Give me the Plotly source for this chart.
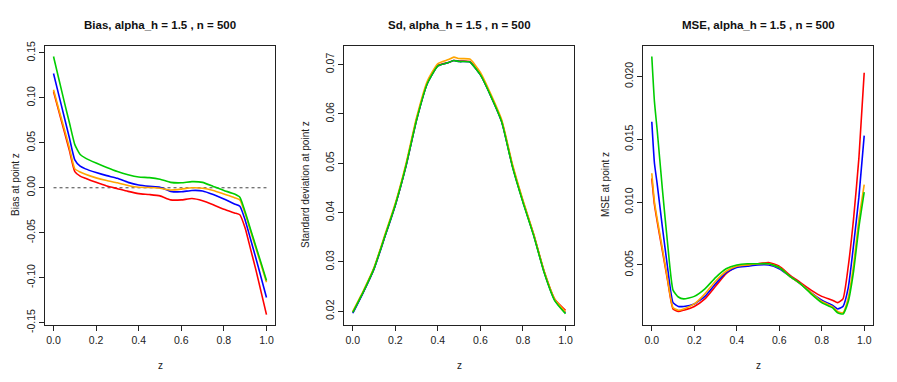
import plotly.graph_objects as go

# ---------------- data ----------------
z_bias = [0, 0.025, 0.05, 0.075, 0.1, 0.125, 0.15, 0.2, 0.25, 0.3, 0.35, 0.4, 0.45, 0.5,
          0.55, 0.6, 0.65, 0.7, 0.75, 0.8, 0.85, 0.875, 0.9, 0.925, 0.95, 0.975, 1.0]
bias_red = [0.107, 0.085, 0.063, 0.041, 0.018, 0.013, 0.0105, 0.006, 0.002, -0.001, -0.004, -0.0065,
            -0.0075, -0.009, -0.0135, -0.0135, -0.012, -0.0145, -0.019, -0.024, -0.028, -0.030,
            -0.045, -0.068, -0.091, -0.116, -0.141]
bias_blue = [0.127, 0.103, 0.079, 0.055, 0.031, 0.024, 0.021, 0.017, 0.0135, 0.0105, 0.006, 0.003,
             0.0015, 0.0005, -0.004, -0.0045, -0.003, -0.0035, -0.0075, -0.0125, -0.018, -0.0205,
             -0.036, -0.057, -0.078, -0.100, -0.122]
bias_orange = [0.109, 0.087, 0.066, 0.044, 0.021, 0.0175, 0.015, 0.011, 0.008, 0.0055, 0.0025, 0.0005,
               0.0003, -0.0005, -0.0025, -0.0015, 0.0, -0.0005, -0.003, -0.007, -0.011, -0.0135,
               -0.029, -0.048, -0.067, -0.086, -0.105]
bias_green = [0.146, 0.121, 0.096, 0.072, 0.048, 0.037, 0.033, 0.0275, 0.0225, 0.018, 0.0145, 0.012,
              0.0113, 0.0095, 0.006, 0.0055, 0.0068, 0.006, 0.0015, -0.003, -0.007, -0.0105,
              -0.027, -0.046, -0.065, -0.084, -0.103]
zero_x = [0, 1]
zero_y = [0, 0]

z_sd = [0, 0.05, 0.1, 0.15, 0.2, 0.25, 0.3, 0.35, 0.4, 0.45, 0.475, 0.5, 0.55, 0.6, 0.65, 0.7,
        0.75, 0.8, 0.85, 0.9, 0.95, 1.0]
sd_red = [0.0198, 0.0240, 0.0287, 0.0351, 0.0416, 0.0495, 0.0589, 0.0662, 0.0698, 0.0704, 0.0708, 0.0707,
          0.0706, 0.0680, 0.0636, 0.0585, 0.0496, 0.0423, 0.0356, 0.0280, 0.0224, 0.0202]
sd_blue = [0.0196, 0.0239, 0.0286, 0.0350, 0.0415, 0.0494, 0.0588, 0.0661, 0.0697, 0.0704, 0.0708, 0.0706,
           0.0705, 0.0679, 0.0635, 0.0584, 0.0495, 0.0422, 0.0355, 0.0279, 0.0222, 0.0197]
sd_orange = [0.0200, 0.0242, 0.0289, 0.0354, 0.0419, 0.0499, 0.0593, 0.0666, 0.0702, 0.0710, 0.0715, 0.0712,
             0.0711, 0.0684, 0.0639, 0.0588, 0.0499, 0.0425, 0.0357, 0.0281, 0.0224, 0.0199]
sd_green = [0.0198, 0.0240, 0.0287, 0.0351, 0.0416, 0.0495, 0.0588, 0.0661, 0.0697, 0.0704, 0.0708, 0.0706,
            0.0705, 0.0679, 0.0635, 0.0584, 0.0494, 0.0421, 0.0354, 0.0278, 0.0221, 0.0195]

z_mse = [0, 0.0125, 0.025, 0.05, 0.075, 0.1, 0.125, 0.15, 0.2, 0.25, 0.3, 0.35, 0.4, 0.45, 0.5,
         0.55, 0.6, 0.65, 0.7, 0.75, 0.8, 0.85, 0.875, 0.9, 0.925, 0.95, 0.975, 1.0]
mse_red = [0.0119, 0.0098, 0.0085, 0.0061, 0.0037, 0.0015, 0.0013, 0.0014, 0.0017, 0.0023, 0.0033, 0.0043,
           0.0049, 0.0050, 0.0051, 0.0052, 0.0049, 0.0042, 0.0036, 0.0030, 0.0025, 0.0022, 0.0020,
           0.0023, 0.0049, 0.0087, 0.0135, 0.0203]
mse_blue = [0.0164, 0.0131, 0.0115, 0.0080, 0.0047, 0.0020, 0.0017, 0.0017, 0.0019, 0.0025, 0.0035, 0.0044,
            0.0048, 0.0049, 0.0050, 0.0050, 0.0047, 0.0041, 0.0035, 0.0028, 0.0022, 0.0018, 0.0015,
            0.0017, 0.0032, 0.0066, 0.0104, 0.0153]
mse_orange = [0.0123, 0.0100, 0.0087, 0.0063, 0.0038, 0.0016, 0.0014, 0.0015, 0.0019, 0.0027, 0.0037, 0.0045,
              0.0049, 0.0050, 0.0051, 0.0051, 0.0048, 0.0041, 0.0035, 0.0028, 0.0021, 0.0017, 0.0013,
              0.0012, 0.0024, 0.0050, 0.0086, 0.0114]
mse_green = [0.0216, 0.0180, 0.0158, 0.0110, 0.0066, 0.0030, 0.00245, 0.0023, 0.0025, 0.0031, 0.0040, 0.0047,
             0.0050, 0.0051, 0.0051, 0.0051, 0.0048, 0.0041, 0.0035, 0.0027, 0.0020, 0.0016, 0.0012,
             0.0011, 0.0021, 0.0045, 0.0080, 0.0108]

x_ticks = [0, 0.2, 0.4, 0.6, 0.8, 1.0]
x_ticktext = ["0.0", "0.2", "0.4", "0.6", "0.8", "1.0"]
bias_ticks = [-0.15, -0.10, -0.05, 0.0, 0.05, 0.10, 0.15]
bias_ticktext = ["-0.15", "-0.10", "-0.05", "0.00", "0.05", "0.10", "0.15"]
sd_ticks = [0.02, 0.03, 0.04, 0.05, 0.06, 0.07]
sd_ticktext = ["0.02", "0.03", "0.04", "0.05", "0.06", "0.07"]
mse_ticks = [0.005, 0.010, 0.015, 0.020]
mse_ticktext = ["0.005", "0.010", "0.015", "0.020"]

titles = ["Bias, alpha_h = 1.5 , n = 500", "Sd, alpha_h = 1.5 , n = 500", "MSE, alpha_h = 1.5 , n = 500"]
ytitles = ["Bias at point z", "Standard deviation at point z", "MSE at point z"]

colors = {"red": "#FF0000", "blue": "#0000FF", "orange": "#FFA500", "green": "#00CD00"}

# ---------------- figure ----------------
W, H = 897, 382
OFF = 8  # page body margin shifts the figure by 8px right and down
FONT = "Liberation Sans, Arial, Helvetica, sans-serif"
fig = go.Figure()

def px_x(p):
    return (p - OFF) / W

def px_y(p):
    return 1 - (p - OFF) / H

def add_lines(xs, series, xa, ya):
    for name, ys in series:
        fig.add_trace(go.Scatter(x=xs, y=ys, mode="lines", xaxis=xa, yaxis=ya,
                                 line=dict(color=colors[name], width=1.6, shape="spline", smoothing=0.5),
                                 showlegend=False, hoverinfo="skip"))

fig.add_trace(go.Scatter(x=zero_x, y=zero_y, mode="lines", xaxis="x", yaxis="y",
                         line=dict(color="#444444", width=1, dash="dot"), showlegend=False))
add_lines(z_bias, [("red", bias_red), ("blue", bias_blue), ("orange", bias_orange), ("green", bias_green)], "x", "y")
add_lines(z_sd, [("red", sd_red), ("blue", sd_blue), ("orange", sd_orange), ("green", sd_green)], "x2", "y2")
add_lines(z_mse, [("red", mse_red), ("blue", mse_blue), ("orange", mse_orange), ("green", mse_green)], "x3", "y3")

# panel boxes in (screen) pixels
boxes = [(45, 275), (344.3, 574), (643.3, 872.7)]
ytitle_px = [15, 305, 605]
top_px, bot_px = 45.5, 325
ydom = [px_y(bot_px), px_y(top_px)]

common_axis = dict(showline=True, mirror=True, linecolor="#222222", linewidth=1,
                   ticks="outside", ticklen=5, tickwidth=1, tickcolor="#222222",
                   showgrid=False, zeroline=False, automargin=False,
                   tickfont=dict(family=FONT, size=10.5, color="#222222"))

yranges = [[-0.1526, 0.1582], [0.01722, 0.07385], [0.000223, 0.02247]]
ytick_sets = [(bias_ticks, bias_ticktext), (sd_ticks, sd_ticktext), (mse_ticks, mse_ticktext)]

layout = dict(width=W, height=H, margin=dict(l=0, r=0, t=0, b=0, autoexpand=False),
              paper_bgcolor="white", plot_bgcolor="white", showlegend=False,
              font=dict(family=FONT, color="#222222"))
for i in range(3):
    sfx = "" if i == 0 else str(i + 1)
    xa = dict(common_axis, domain=[px_x(boxes[i][0]), px_x(boxes[i][1])], range=[-0.04, 1.04],
              tickvals=x_ticks, ticktext=x_ticktext, anchor="y" + sfx)
    ya = dict(common_axis, domain=ydom, range=yranges[i], tickvals=ytick_sets[i][0],
              ticktext=ytick_sets[i][1], tickangle=-90, anchor="x" + sfx)
    layout["xaxis" + sfx] = xa
    layout["yaxis" + sfx] = ya
fig.update_layout(**layout)

annotations = []
for i in range(3):
    cxp = (boxes[i][0] + boxes[i][1]) / 2
    annotations.append(dict(text="<b>" + titles[i] + "</b>", x=px_x(cxp), y=px_y(25), xref="paper", yref="paper",
                            showarrow=False, xanchor="center", yanchor="middle",
                            font=dict(family=FONT, size=11.5, color="#111111")))
    annotations.append(dict(text="z", x=px_x(cxp), y=px_y(365), xref="paper", yref="paper",
                            showarrow=False, xanchor="center", yanchor="middle",
                            font=dict(family=FONT, size=10, color="#222222")))
    annotations.append(dict(text=ytitles[i], x=px_x(ytitle_px[i]), y=px_y(185), xref="paper", yref="paper",
                            showarrow=False, xanchor="center", yanchor="middle", textangle=-90,
                            font=dict(family=FONT, size=10, color="#222222")))
fig.update_layout(annotations=annotations)

fig.write_html("out.html")
